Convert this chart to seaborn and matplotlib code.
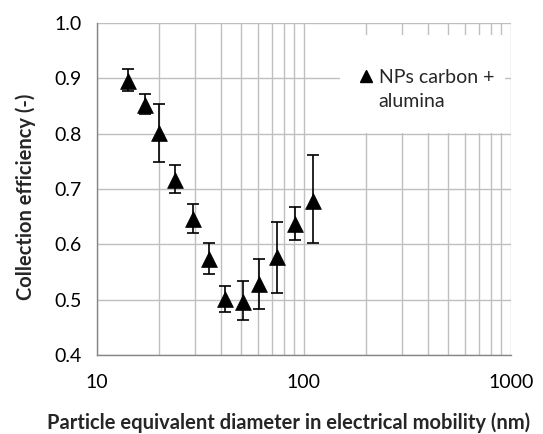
import matplotlib
matplotlib.use("Agg")
import matplotlib.pyplot as plt
import matplotlib.patches as mpatches
import seaborn as sns
import pandas as pd
import numpy as np
from matplotlib.ticker import LogLocator, NullFormatter, FixedLocator

# Data
diameter_nm = [14.1, 17.1, 20.0, 24.0, 29.1, 35.0, 41.8, 50.9, 61.1, 74.3, 90.4, 111.2]
efficiency = [0.895, 0.852, 0.801, 0.717, 0.646, 0.574, 0.501, 0.497, 0.528, 0.577, 0.637, 0.679]
err_upper = [0.916, 0.871, 0.854, 0.744, 0.673, 0.602, 0.525, 0.535, 0.573, 0.640, 0.668, 0.761]
err_lower = [0.877, 0.835, 0.749, 0.693, 0.621, 0.546, 0.478, 0.464, 0.483, 0.513, 0.608, 0.602]
y_ticks = [0.4, 0.5, 0.6, 0.7, 0.8, 0.9, 1.0]
x_ticks = [10, 100, 1000]
series_label = ["NPs carbon +", "alumina"]

df = pd.DataFrame({"d": diameter_nm, "eff": efficiency})
yerr = np.array([np.array(efficiency) - np.array(err_lower),
                 np.array(err_upper) - np.array(efficiency)])

sns.set_style("white")
plt.rcParams["font.family"] = ["Lato", "DejaVu Sans"]

fig = plt.figure(figsize=(5.43, 4.34), dpi=100)
ax = fig.add_axes([0.178, 0.181, 0.7625, 0.767])

grid_col = "#bfbfbf"
axis_col = "#868686"

ax.errorbar(df["d"], df["eff"], yerr=yerr, fmt="none", ecolor="black",
            elinewidth=1.2, capsize=4, capthick=1.2, zorder=3)
sns.scatterplot(data=df, x="d", y="eff", marker="^", s=130, color="black",
                edgecolor="black", linewidth=0.5, ax=ax, zorder=4, legend=False)

ax.set_xscale("log")
ax.set_xlim(10, 1000)
ax.set_ylim(0.4, 1.0)
ax.xaxis.set_major_locator(FixedLocator(x_ticks))
ax.xaxis.set_major_formatter(plt.FuncFormatter(lambda v, p: f"{int(v)}"))
ax.xaxis.set_minor_locator(LogLocator(base=10, subs=np.arange(2, 10)))
ax.xaxis.set_minor_formatter(NullFormatter())
ax.set_yticks(y_ticks)
ax.set_yticklabels([f"{v:.1f}" for v in y_ticks])

ax.grid(True, which="both", axis="x", color=grid_col, linewidth=1)
ax.grid(True, which="major", axis="y", color=grid_col, linewidth=1)
ax.set_axisbelow(True)

for side in ["top", "right"]:
    ax.spines[side].set_visible(False)
for side in ["left", "bottom"]:
    ax.spines[side].set_color(axis_col)
    ax.spines[side].set_linewidth(1)

ax.tick_params(axis="both", which="major", labelsize=14, colors="black",
               length=4.5, width=1, color=axis_col, direction="out")
ax.tick_params(axis="x", which="minor", length=0)
ax.tick_params(axis="x", pad=9)
ax.tick_params(axis="y", pad=6.5)

ax.set_xlabel("Particle equivalent diameter in electrical mobility (nm)",
              fontsize=14.5, fontweight="bold")
ax.xaxis.set_label_coords(0.4645, -0.172)
ax.set_ylabel("Collection efficiency (-)", fontsize=14.5, fontweight="bold")
ax.yaxis.set_label_coords(-0.146, 0.478)

# white legend area, covering the grid
ax.add_patch(mpatches.Rectangle((0.588, 0.668), 0.398, 0.295, transform=ax.transAxes,
                                facecolor="white", edgecolor="none", zorder=2))
handle = plt.Line2D([], [], marker="^", color="black", linestyle="none", markersize=8.5)
blank = plt.Line2D([], [], linestyle="none")
leg = ax.legend([handle, blank], series_label, loc="upper left",
                bbox_to_anchor=(0.627, 0.862), frameon=False, fontsize=14,
                handletextpad=0.15, handlelength=1.0, borderpad=0,
                borderaxespad=0, labelspacing=0.4)
leg.set_zorder(5)

fig.savefig("out.png", dpi=100)
